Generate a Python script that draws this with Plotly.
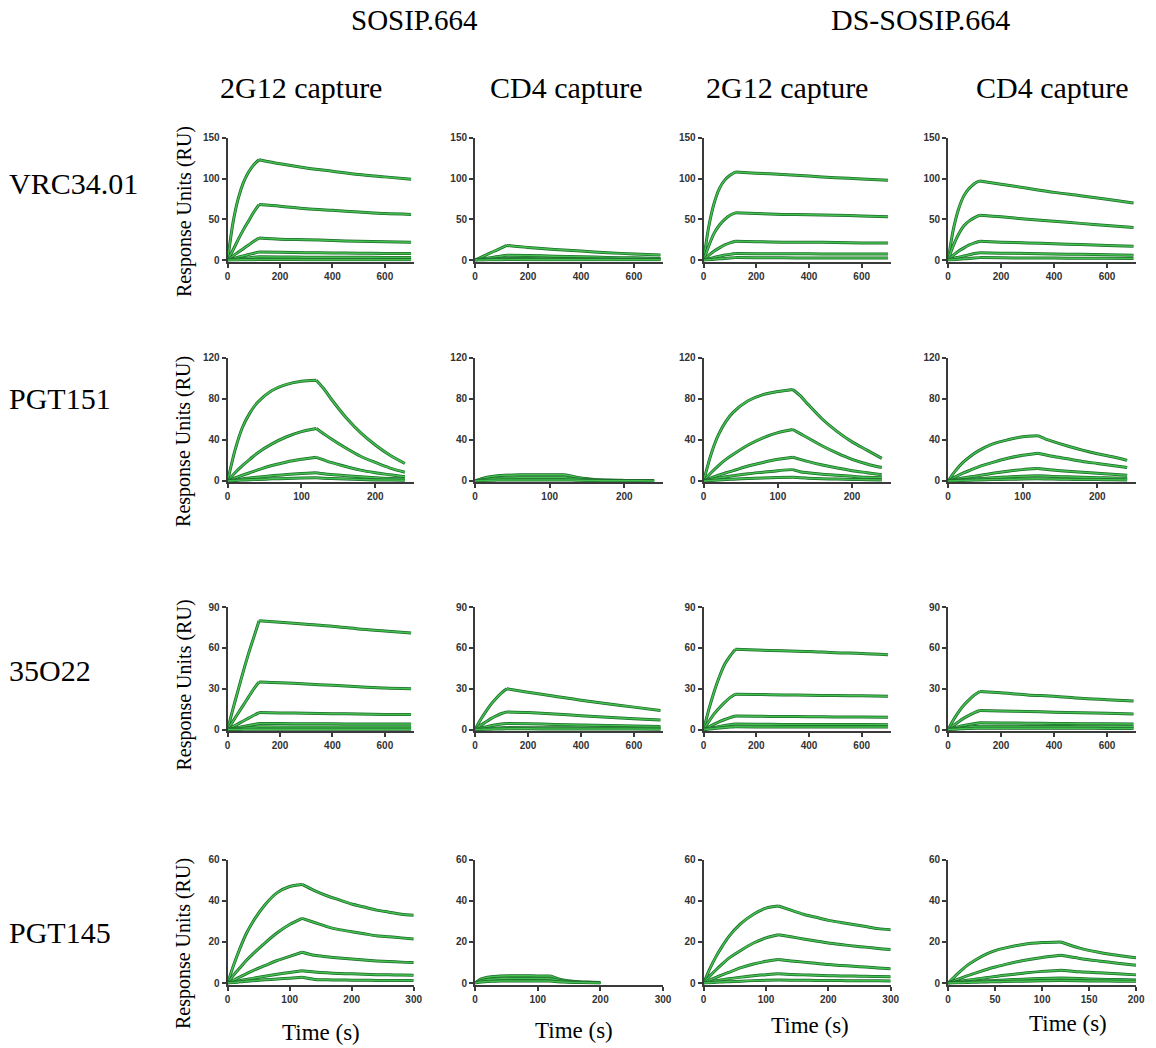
import plotly.graph_objects as go

# ---------------- data ----------------
T1 = [0, 20, 40, 60, 80, 100, 120, 200, 300, 400, 500, 600, 700]
T2 = [0, 10, 20, 30, 40, 60, 80, 100, 120, 130, 140, 160, 180, 200, 220, 240]
T4 = [0, 10, 20, 30, 40, 60, 80, 100, 120, 140, 160, 180, 200, 220, 240, 260, 280, 300]
T4b = [0, 10, 20, 30, 40, 60, 80, 100, 120, 140, 160, 180, 200]
T4c = [0, 10, 20, 30, 40, 50, 60, 80, 100, 120, 140, 160, 180, 200]

vrc_sosip_2g12 = [
    [0, 45, 75, 95, 108, 117, 123, 118, 113, 109, 105, 102, 99],
    [0, 12, 25, 37, 48, 59, 68, 66, 63, 61, 59, 57, 56],
    [0, 5, 9.5, 14, 18.5, 23, 27, 25.5, 25, 24, 23, 22.5, 22],
    [0, 1.8, 3.5, 5.2, 6.8, 8.4, 10, 9.5, 9, 8.8, 8.5, 8.2, 8],
    [0, 0.7, 1.4, 2, 2.7, 3.4, 4, 3.8, 3.6, 3.5, 3.4, 3.3, 3.2],
    [0, 0.1, 0.2, 0.3, 0.4, 0.5, 0.6, 0.6, 0.5, 0.5, 0.5, 0.4, 0.4],
]
vrc_sosip_cd4 = [
    [0, 3, 6, 9, 12, 15, 18, 15.5, 13, 11, 9, 7.5, 6.3],
    [0, 1, 2, 3, 4, 5, 6, 5.5, 4.8, 4, 3.3, 2.7, 2],
    [0, 0.35, 0.7, 1, 1.4, 1.7, 2, 1.8, 1.6, 1.4, 1.2, 1, 0.9],
    [0, 0.1, 0.2, 0.3, 0.4, 0.5, 0.6, 0.5, 0.5, 0.4, 0.4, 0.3, 0.3],
]
vrc_ds_2g12 = [
    [0, 42, 70, 88, 98, 104, 108, 106.5, 105, 103, 101, 99.5, 98],
    [0, 18, 33, 43, 50, 55, 58, 57, 56, 55.5, 55, 54, 53],
    [0, 6, 11, 15, 18.5, 21, 23, 22.5, 22, 22, 21.5, 21, 21],
    [0, 1.6, 3.2, 4.8, 6.2, 7, 8, 7.8, 7.7, 7.6, 7.5, 7.4, 7.3],
    [0, 0.5, 1, 1.5, 2, 2.5, 3, 2.8, 2.7, 2.6, 2.6, 2.5, 2.5],
]
vrc_ds_cd4 = [
    [0, 38, 63, 79, 88, 94, 97, 93, 88, 83, 79, 74.5, 70],
    [0, 18, 32, 42, 48, 52, 55, 53, 50, 47.5, 45, 42.5, 40],
    [0, 6, 11, 15, 18.5, 21, 23, 22, 21, 20, 19, 18, 17],
    [0, 2, 3.5, 5, 6.5, 8, 9, 8.5, 8, 7.5, 7, 6.5, 6],
    [0, 0.5, 1, 1.5, 2, 2.5, 3, 2.8, 2.6, 2.4, 2.2, 2.1, 2],
]

pgt151_sosip_2g12 = [
    [0, 30, 52, 66, 76, 88, 94, 97, 98, 90, 80, 62, 47, 35, 25, 17],
    [0, 8, 15, 21, 27, 36, 43, 48, 51, 46, 41, 32, 24, 18, 12.5, 8.5],
    [0, 3, 5.5, 8, 10.5, 15, 18.5, 21, 23, 20.5, 18, 14, 10.5, 8, 6, 4],
    [0, 1, 2, 2.8, 3.6, 5, 6.3, 7.3, 8, 7, 6.2, 5, 4, 3, 2.3, 1.8],
    [0, 0.4, 0.8, 1.1, 1.4, 2, 2.4, 2.8, 3, 2.6, 2.3, 1.8, 1.4, 1, 0.8, 0.6],
]
pgt151_sosip_cd4 = [
    [0, 2.5, 4, 5, 5.5, 6, 6, 6, 6, 4.5, 3, 1.5, 0.8, 0.5, 0.3, 0.2],
    [0, 1.2, 2, 2.5, 2.8, 3, 3, 3, 3, 2.3, 1.6, 0.9, 0.5, 0.3, 0.2, 0.1],
    [0, 0.4, 0.7, 0.8, 0.9, 1, 1, 1, 1, 0.8, 0.6, 0.3, 0.2, 0.1, 0.1, 0],
]
pgt151_ds_2g12 = [
    [0, 26, 45, 58, 67, 78, 84, 87, 89, 83, 75, 60, 48, 38, 30, 22],
    [0, 8, 15, 21, 26, 35, 42, 47, 50, 46, 42, 34, 27, 21, 16.5, 13],
    [0, 3, 5.5, 8, 10, 14.5, 18, 21, 23, 21, 19, 15.5, 12.5, 10, 8, 6],
    [0, 1.5, 2.8, 4, 5, 7, 8.5, 10, 11, 9, 8, 6.5, 5.5, 4.5, 3.5, 3],
    [0, 0.5, 0.9, 1.3, 1.7, 2.4, 2.9, 3.3, 3.5, 3, 2.7, 2.2, 1.8, 1.5, 1.2, 1],
]
pgt151_ds_cd4 = [
    [0, 10, 18, 24, 29, 36, 40, 43, 44, 41, 38.5, 34, 30, 26.5, 23.5, 20],
    [0, 4, 7.5, 10.5, 13.5, 18, 22, 25, 27, 25.5, 24, 21.5, 19, 17, 15, 13],
    [0, 1.5, 2.8, 4, 5, 7.5, 9.5, 11, 12, 11.3, 10.6, 9.5, 8.5, 7.5, 6.5, 5.5],
    [0, 0.6, 1.2, 1.7, 2.2, 3.1, 3.9, 4.5, 5, 4.7, 4.4, 4, 3.6, 3.2, 2.9, 2.5],
    [0, 0.2, 0.5, 0.7, 0.9, 1.3, 1.6, 1.8, 2, 1.9, 1.8, 1.6, 1.4, 1.3, 1.2, 1],
]

o22_sosip_2g12 = [
    [0, 15, 29, 43, 56, 68, 80, 79, 77.5, 76, 74, 72.5, 71],
    [0, 6, 12, 18, 24, 30, 35, 34.5, 33.5, 32.5, 31.5, 30.5, 30],
    [0, 2.1, 4.2, 6.3, 8.4, 10.5, 12.5, 12.2, 12, 11.7, 11.4, 11.1, 11],
    [0, 0.75, 1.5, 2.25, 3, 3.75, 4.5, 4.4, 4.3, 4.2, 4.1, 4, 4],
    [0, 0.33, 0.67, 1, 1.33, 1.67, 2, 1.95, 1.9, 1.9, 1.85, 1.8, 1.8],
    [0, 0.05, 0.1, 0.15, 0.2, 0.25, 0.3, 0.3, 0.3, 0.3, 0.3, 0.3, 0.3],
]
o22_sosip_cd4 = [
    [0, 7, 13, 18.5, 23, 27, 30, 27.5, 24.5, 21.5, 19, 16.5, 14],
    [0, 3, 5.5, 8, 10, 11.8, 13, 12.5, 11.5, 10.2, 9, 8, 7],
    [0, 1, 1.9, 2.8, 3.5, 4.1, 4.5, 4.2, 3.8, 3.4, 3, 2.6, 2.3],
    [0, 0.3, 0.6, 0.9, 1.1, 1.3, 1.5, 1.4, 1.3, 1.2, 1.1, 1, 0.9],
    [0, 0.1, 0.2, 0.3, 0.4, 0.45, 0.5, 0.5, 0.45, 0.4, 0.4, 0.35, 0.3],
]
o22_ds_2g12 = [
    [0, 15, 28, 39, 48, 54, 59, 58.5, 58, 57.5, 56.5, 56, 55],
    [0, 6, 11.5, 16, 20, 23.5, 26, 25.8, 25.5, 25.2, 25, 24.8, 24.5],
    [0, 2, 4, 5.8, 7.4, 8.8, 10, 9.8, 9.6, 9.5, 9.3, 9.2, 9],
    [0, 0.8, 1.6, 2.3, 3, 3.5, 4, 3.9, 3.8, 3.8, 3.7, 3.7, 3.6],
    [0, 0.4, 0.8, 1.1, 1.5, 1.8, 2, 1.95, 1.9, 1.9, 1.85, 1.8, 1.8],
]
o22_ds_cd4 = [
    [0, 7, 13, 18, 22, 25.5, 28, 27, 25.5, 24.5, 23, 22, 21],
    [0, 3, 5.8, 8.4, 10.5, 12.5, 14, 13.7, 13.3, 12.8, 12.4, 12, 11.5],
    [0, 1.1, 2.1, 3, 3.8, 4.5, 5, 4.9, 4.7, 4.5, 4.3, 4.2, 4],
    [0, 0.5, 1, 1.4, 1.8, 2.2, 2.5, 2.4, 2.3, 2.2, 2.1, 2, 2],
    [0, 0.2, 0.4, 0.6, 0.75, 0.9, 1, 1, 0.95, 0.9, 0.9, 0.85, 0.8],
]

pgt145_sosip_2g12 = [
    [0, 9, 17, 24, 29.5, 38, 44, 47, 48, 45, 42.5, 40.5, 38.5, 37, 35.5, 34.5, 33.5, 33],
    [0, 4, 7.5, 11, 14, 19.5, 24.5, 28.5, 31.5, 29.5, 27.5, 26, 25, 24, 23, 22.5, 22, 21.5],
    [0, 1.5, 3, 4.5, 6, 8.5, 11, 13, 15, 13.5, 12.8, 12.2, 11.7, 11.2, 10.8, 10.5, 10.2, 10],
    [0, 0.6, 1.2, 1.8, 2.3, 3.3, 4.3, 5.2, 6, 5.4, 5, 4.7, 4.5, 4.3, 4.1, 4, 3.9, 3.8],
    [0, 0.3, 0.6, 0.9, 1.1, 1.6, 2, 2.4, 2.8, 1.8, 1.6, 1.5, 1.4, 1.4, 1.3, 1.3, 1.3, 1.3],
]
pgt145_sosip_cd4 = [
    [0, 2, 2.8, 3.2, 3.5, 3.6, 3.6, 3.5, 3.5, 1.5, 0.8, 0.5, 0.3],
    [0, 1.2, 1.7, 2, 2.1, 2.2, 2.2, 2.2, 2.1, 1, 0.5, 0.3, 0.2],
    [0, 0.5, 0.8, 0.9, 1, 1, 1, 1, 1, 0.5, 0.3, 0.2, 0.1],
]
pgt145_ds_2g12 = [
    [0, 7, 13, 18, 22.5, 29, 33.5, 36.5, 37.5, 35.5, 33.5, 32, 30.5, 29.5, 28.5, 27.5, 26.5, 26],
    [0, 3.5, 6.5, 9.3, 12, 16, 19.5, 22, 23.5, 22.5, 21.5, 20.5, 19.5, 18.8, 18, 17.5, 16.8, 16.3],
    [0, 1.5, 2.8, 4, 5.2, 7.5, 9.3, 10.6, 11.5, 10.8, 10.2, 9.6, 9, 8.6, 8.2, 7.8, 7.4, 7],
    [0, 0.6, 1.1, 1.6, 2.1, 2.9, 3.6, 4.1, 4.5, 4.2, 4, 3.8, 3.6, 3.5, 3.4, 3.3, 3.2, 3.1],
    [0, 0.2, 0.4, 0.55, 0.7, 0.95, 1.2, 1.35, 1.5, 1.4, 1.35, 1.3, 1.25, 1.2, 1.15, 1.1, 1.1, 1.05],
]
pgt145_ds_cd4 = [
    [0, 4.5, 8.5, 11.5, 14, 15.8, 17, 18.8, 19.7, 20, 17, 15, 13.5, 12.3],
    [0, 1.8, 3.5, 5, 6.5, 7.8, 9, 11, 12.5, 13.5, 12, 10.8, 9.7, 8.7],
    [0, 0.7, 1.4, 2, 2.6, 3.2, 3.8, 4.8, 5.7, 6.3, 5.5, 5, 4.5, 4],
    [0, 0.3, 0.6, 0.9, 1.1, 1.3, 1.5, 1.9, 2.2, 2.5, 2.2, 1.9, 1.7, 1.5],
    [0, 0.15, 0.3, 0.45, 0.55, 0.65, 0.75, 0.95, 1.1, 1.2, 1.1, 1, 0.95, 0.9],
]

row_labels = ["VRC34.01", "PGT151", "35O22", "PGT145"]
col_labels = ["2G12 capture", "CD4 capture", "2G12 capture", "CD4 capture"]
group_labels = ["SOSIP.664", "DS-SOSIP.664"]
y_max = [150, 120, 90, 60]
y_ticks = [[0, 50, 100, 150], [0, 40, 80, 120], [0, 30, 60, 90], [0, 20, 40, 60]]
x_ticks_long = [0, 200, 400, 600]
x_ticks_240 = [0, 100, 200]
x_ticks_300 = [0, 100, 200, 300]
x_ticks_200 = [0, 50, 100, 150, 200]
t_switch = 120  # association -> dissociation

panels = [
    # row, col, times, curves, xmax, xticks
    (0, 0, T1, vrc_sosip_2g12, 710, x_ticks_long),
    (0, 1, T1, vrc_sosip_cd4, 710, x_ticks_long),
    (0, 2, T1, vrc_ds_2g12, 710, x_ticks_long),
    (0, 3, T1, vrc_ds_cd4, 710, x_ticks_long),
    (1, 0, T2, pgt151_sosip_2g12, 252, x_ticks_240),
    (1, 1, T2, pgt151_sosip_cd4, 252, x_ticks_240),
    (1, 2, T2, pgt151_ds_2g12, 252, x_ticks_240),
    (1, 3, T2, pgt151_ds_cd4, 252, x_ticks_240),
    (2, 0, T1, o22_sosip_2g12, 710, x_ticks_long),
    (2, 1, T1, o22_sosip_cd4, 710, x_ticks_long),
    (2, 2, T1, o22_ds_2g12, 710, x_ticks_long),
    (2, 3, T1, o22_ds_cd4, 710, x_ticks_long),
    (3, 0, T4, pgt145_sosip_2g12, 300, x_ticks_300),
    (3, 1, T4b, pgt145_sosip_cd4, 300, x_ticks_300),
    (3, 2, T4, pgt145_ds_2g12, 300, x_ticks_300),
    (3, 3, T4c, pgt145_ds_cd4, 200, x_ticks_200),
]

# ---------------- layout geometry ----------------
W, H = 1156, 1048
col_px = [(227, 415), (477, 667), (708, 897), (955, 1145)]
row_px = [(133, 258), (355, 481), (607, 732), (862, 988)]

DARK = "#1c6a2c"
LIGHT = "#44c04e"
AXC = "#3a3a3a"
SERIF = "Liberation Serif, Times New Roman, serif"
SANS = "Liberation Sans, Arial, sans-serif"

fig = go.Figure()
layout = dict(
    width=W, height=H, margin=dict(l=0, r=0, t=0, b=0),
    paper_bgcolor="white", plot_bgcolor="white", showlegend=False,
)

for i, (r, c, t, curves, xmax, xt) in enumerate(panels):
    n = i + 1
    xa = "x" if n == 1 else f"x{n}"
    ya = "y" if n == 1 else f"y{n}"
    x0, x1 = col_px[c]
    y0, y1 = row_px[r]
    ymx = y_max[r]
    layout["xaxis" if n == 1 else f"xaxis{n}"] = dict(
        domain=[x0 / W, x1 / W], anchor=ya, range=[0, xmax],
        tickvals=xt, ticks="outside", ticklen=4, tickwidth=1.5, tickcolor=AXC,
        showline=True, linecolor=AXC, linewidth=2, showgrid=False, zeroline=False,
        tickfont=dict(family=SANS, size=10, color="#333", weight="bold"),
    )
    layout["yaxis" if n == 1 else f"yaxis{n}"] = dict(
        domain=[1 - y1 / H, 1 - y0 / H], anchor=xa, range=[-0.012 * ymx, ymx],
        tickvals=y_ticks[r], ticks="outside", ticklen=4, tickwidth=1.5, tickcolor=AXC,
        showline=True, linecolor=AXC, linewidth=2, showgrid=False, zeroline=False,
        tickfont=dict(family=SANS, size=10, color="#333", weight="bold"),
    )
    for vals in curves:
        assoc_t = [tt for tt in t if tt <= t_switch]
        assoc_v = [v for tt, v in zip(t, vals) if tt <= t_switch]
        diss_t = [tt for tt in t if tt >= t_switch]
        diss_v = [v for tt, v in zip(t, vals) if tt >= t_switch]
        for seg_t, seg_v in ((assoc_t, assoc_v), (diss_t, diss_v)):
            fig.add_trace(go.Scatter(
                x=seg_t, y=seg_v, mode="lines", xaxis=xa, yaxis=ya,
                line=dict(color=DARK, width=3.0, shape="spline", smoothing=0.8),
                hoverinfo="skip", cliponaxis=True))
            fig.add_trace(go.Scatter(
                x=seg_t, y=seg_v, mode="lines", xaxis=xa, yaxis=ya,
                line=dict(color=LIGHT, width=1.5, shape="spline", smoothing=0.8),
                hoverinfo="skip", cliponaxis=True))

ann = []
def txt(s, x, y, size, xanchor="center", **kw):
    d = dict(text=s, x=x / W, y=1 - y / H, xref="paper", yref="paper",
             xanchor=xanchor, yanchor="middle", showarrow=False,
             font=dict(family=SERIF, size=size, color="black"))
    d.update(kw)
    ann.append(d)

txt(group_labels[0], 416, 14, 29)
txt(group_labels[1], 927, 14, 30)
for cx, lab in zip([301, 569, 792, 1060], col_labels):
    txt(lab, cx, 82, 30)
for cy, lab in zip([179, 396, 671, 935], row_labels):
    txt(lab, 4, cy, 30, xanchor="left")
for cy in [208, 440, 686, 947]:
    txt("Response Units (RU)", 183, cy, 20, textangle=-90)
for (cx, cy) in [(321, 1036), (577, 1034), (815, 1029), (1076, 1027)]:
    txt("Time (s)", cx, cy, 23)

layout["annotations"] = ann
fig.update_layout(**layout)
fig.write_html("out.html")
